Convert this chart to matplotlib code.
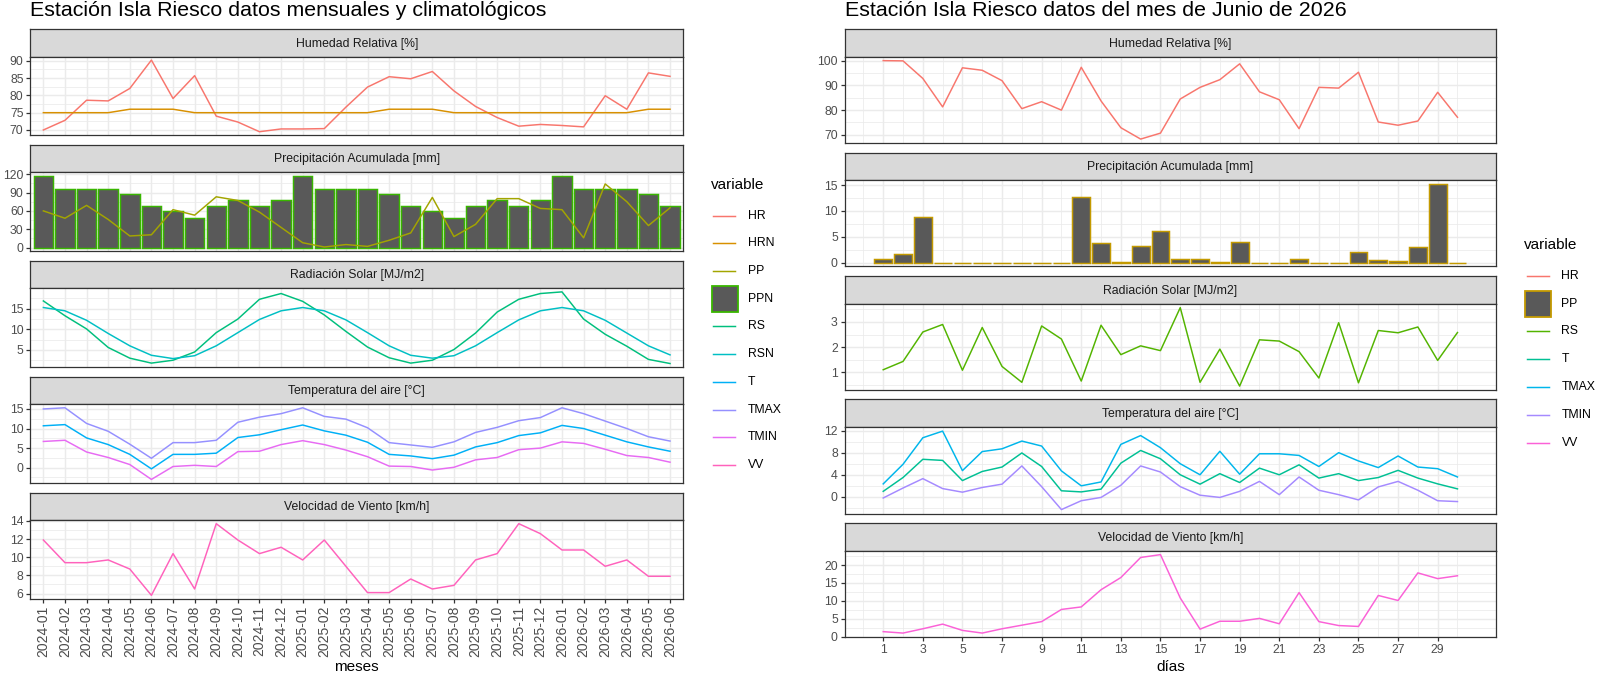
import matplotlib
matplotlib.use("Agg")
import matplotlib.pyplot as plt
from matplotlib.lines import Line2D
from matplotlib.patches import Rectangle
from matplotlib.ticker import MultipleLocator, AutoMinorLocator, FixedLocator, NullLocator

plt.rcParams['font.family'] = ['Liberation Sans', 'DejaVu Sans']

# ---------------- data: monthly (left) ----------------
meses = ["2024-01", "2024-02", "2024-03", "2024-04", "2024-05", "2024-06",
         "2024-07", "2024-08", "2024-09", "2024-10", "2024-11", "2024-12",
         "2025-01", "2025-02", "2025-03", "2025-04", "2025-05", "2025-06",
         "2025-07", "2025-08", "2025-09", "2025-10", "2025-11", "2025-12",
         "2026-01", "2026-02", "2026-03", "2026-04", "2026-05", "2026-06"]
HR_m = [70.0, 72.8, 78.6, 78.4, 82.0, 90.2, 79.1, 85.7, 74.0, 72.3, 69.5, 70.3,
        70.3, 70.4, 76.6, 82.4, 85.4, 84.8, 86.9, 81.3, 76.8, 73.6, 71.1, 71.6,
        71.3, 70.9, 79.9, 76.0, 86.5, 85.5]
HRN_m = [75, 75, 75, 75, 76, 76, 76, 75, 75, 75, 75, 75, 75, 75, 75, 75, 76, 76,
         76, 75, 75, 75, 75, 75, 75, 75, 75, 75, 76, 76]
PPN_m = [117, 96, 96, 96, 88, 68, 59, 49, 68, 78, 68, 78, 117, 96, 96, 96, 88, 68,
         59, 49, 68, 78, 68, 78, 117, 96, 96, 96, 88, 68]
PP_m = [60, 48, 69, 46, 19, 21, 62, 53, 83, 77, 58, 33, 8, 1, 5, 2, 12, 24, 82, 18,
        38, 80, 80, 64, 62, 16, 104, 75, 36, 65]
RS_m = [16.9, 13.3, 10.1, 5.6, 3.0, 1.8, 2.5, 4.5, 9.2, 12.5, 17.3, 18.7, 16.8, 13.5,
        9.5, 5.7, 3.1, 1.8, 2.5, 5.1, 9.1, 14.2, 17.3, 18.7, 19.1, 12.5, 8.8, 5.9, 2.7, 1.7]
RSN_m = [15.3, 14.5, 12.2, 9.0, 6.0, 3.7, 2.9, 3.6, 6.0, 9.2, 12.4, 14.5, 15.3, 14.5,
         12.3, 9.2, 6.0, 3.7, 3.0, 3.6, 6.0, 9.2, 12.3, 14.5, 15.3, 14.5, 12.2, 9.1, 6.0, 3.8]
T_m = [10.7, 11.0, 7.6, 5.9, 3.4, -0.3, 3.4, 3.4, 3.7, 7.7, 8.4, 9.7, 10.9, 9.4, 8.3,
       6.5, 3.4, 3.0, 2.3, 3.2, 5.3, 6.4, 8.2, 8.9, 10.8, 10.0, 8.3, 6.6, 5.3, 4.2]
TMAX_m = [15.0, 15.3, 11.3, 9.3, 6.0, 2.4, 6.4, 6.4, 7.0, 11.6, 12.9, 13.8, 15.3, 13.1,
          12.4, 10.2, 6.4, 5.8, 5.2, 6.6, 9.0, 10.3, 12.0, 12.8, 15.3, 13.8, 11.9, 10.0, 7.9, 6.8]
TMIN_m = [6.7, 7.0, 4.0, 2.6, 0.8, -3.0, 0.3, 0.6, 0.3, 4.1, 4.2, 5.9, 6.9, 5.9, 4.5,
          2.8, 0.4, 0.3, -0.6, 0.1, 2.0, 2.6, 4.6, 5.0, 6.6, 6.2, 4.7, 3.1, 2.6, 1.4]
VV_m = [11.9, 9.4, 9.4, 9.7, 8.7, 5.8, 10.4, 6.5, 13.7, 11.9, 10.4, 11.1, 9.7, 11.9,
        9.0, 6.1, 6.1, 7.6, 6.5, 6.9, 9.7, 10.4, 13.7, 12.6, 10.8, 10.8, 9.0, 9.7, 7.9, 7.9]

# ---------------- data: daily (right) ----------------
dias = [1, 2, 3, 4, 5, 6, 7, 8, 9, 10, 11, 12, 13, 14, 15, 16, 17, 18, 19, 20,
        21, 22, 23, 24, 25, 26, 27, 28, 29, 30]
dias_ticks = [1, 3, 5, 7, 9, 11, 13, 15, 17, 19, 21, 23, 25, 27, 29]
HR_d = [100.0, 99.9, 92.8, 81.3, 97.1, 96.1, 91.9, 80.6, 83.4, 80.0, 97.3, 83.7, 72.9,
        68.3, 70.7, 84.5, 89.2, 92.3, 98.7, 87.4, 84.2, 72.5, 89.2, 88.9, 95.3, 75.2,
        73.9, 75.6, 87.2, 77.1]
PP_d = [0.65, 1.75, 8.8, 0, 0, 0, 0, 0, 0, 0, 12.7, 3.7, 0.1, 3.2, 6.2, 0.65, 0.7, 0.1,
        3.9, 0, 0, 0.6, 0, 0, 2.1, 0.5, 0.25, 3.0, 15.2, 0]
RS_d = [1.1, 1.43, 2.6, 2.9, 1.08, 2.78, 1.23, 0.6, 2.84, 2.32, 0.65, 2.87, 1.7, 2.05,
        1.86, 3.57, 0.6, 1.92, 0.45, 2.29, 2.24, 1.82, 0.77, 2.97, 0.58, 2.66, 2.57, 2.8,
        1.47, 2.58]
T_d = [1.0, 3.5, 6.8, 6.6, 2.95, 4.6, 5.4, 7.95, 5.5, 1.1, 0.9, 1.4, 6.1, 8.4, 6.9, 4.0,
       2.3, 4.2, 2.6, 5.2, 4.0, 5.8, 3.4, 4.2, 2.95, 3.5, 4.8, 3.4, 2.35, 1.45]
TMAX_d = [2.35, 5.9, 10.7, 11.9, 4.75, 8.2, 8.7, 10.1, 9.2, 4.7, 2.0, 2.7, 9.5, 11.1, 8.9,
          6.0, 4.0, 8.25, 4.1, 7.8, 7.8, 7.5, 5.5, 8.0, 6.5, 5.3, 7.4, 5.4, 5.1, 3.6]
TMIN_d = [-0.2, 1.6, 3.3, 1.5, 0.85, 1.7, 2.3, 5.6, 1.85, -2.3, -0.7, -0.1, 2.1, 5.6, 4.5,
          1.85, 0.3, -0.1, 1.0, 2.8, 0.4, 3.6, 1.2, 0.4, -0.55, 1.8, 2.8, 1.2, -0.7, -0.85]
VV_d = [1.4, 1.0, 2.2, 3.5, 1.75, 1.0, 2.2, 3.2, 4.2, 7.6, 8.3, 13.1, 16.5, 22.1, 22.9,
        10.8, 2.1, 4.3, 4.3, 5.1, 3.6, 12.3, 4.2, 3.1, 2.85, 11.5, 10.1, 17.8, 16.2, 17.0]

# ---------------- colours / names ----------------
vars_left = ["HR", "HRN", "PP", "PPN", "RS", "RSN", "T", "TMAX", "TMIN", "VV"]
cols_left = ["#F8766D", "#D89000", "#A3A500", "#39B600", "#00BF7D", "#00BFC4",
             "#00B0F6", "#9590FF", "#E76BF3", "#FF62BC"]
bars_left = ["PPN"]
vars_right = ["HR", "PP", "RS", "T", "TMAX", "TMIN", "VV"]
cols_right = ["#F8766D", "#C49A00", "#53B400", "#00C094", "#00B6EB", "#A58AFF", "#FB61D7"]
bars_right = ["PP"]
CL = dict(zip(vars_left, cols_left))
CR = dict(zip(vars_right, cols_right))

facet_titles = ["Humedad Relativa [%]", "Precipitación Acumulada [mm]",
                "Radiación Solar [MJ/m2]", "Temperatura del aire [°C]",
                "Velocidad de Viento [km/h]"]

W, H = 1600, 676
fig = plt.figure(figsize=(W / 100, H / 100), dpi=100)

BORDER = "#333333"
GRID = "#EBEBEB"
LW = 1.07
BARFILL = "#595959"


def px_axes(x0, y0, x1, y1):
    return fig.add_axes([x0 / W, 1 - y1 / H, (x1 - x0) / W, (y1 - y0) / H])


def strip(x0, y0, x1, y1, text):
    ax = px_axes(x0, y0, x1, y1)
    ax.set_facecolor("#D9D9D9")
    ax.set_xticks([])
    ax.set_yticks([])
    for s in ax.spines.values():
        s.set_color(BORDER)
        s.set_linewidth(0.9)
    ax.text(0.5, 0.47, text, transform=ax.transAxes, ha="center", va="center",
            fontsize=8.8, color="#1A1A1A")
    return ax


def panel(x0, y0, x1, y1, ystep, bottom):
    ax = px_axes(x0, y0, x1, y1)
    ax.use_sticky_edges = False
    ax.margins(y=0.05)
    ax.yaxis.set_major_locator(MultipleLocator(ystep))
    ax.yaxis.set_minor_locator(AutoMinorLocator(2))
    ax.set_axisbelow(True)
    ax.grid(which="major", color=GRID, lw=1.07)
    ax.grid(which="minor", color=GRID, lw=0.55)
    for s in ax.spines.values():
        s.set_color(BORDER)
        s.set_linewidth(0.9)
    ax.tick_params(which="major", length=2.75, width=0.9, color=BORDER,
                   labelsize=8.8, labelcolor="#4D4D4D", pad=2.2)
    ax.tick_params(which="minor", length=0)
    if not bottom:
        ax.tick_params(axis="x", which="both", length=0, labelbottom=False)
    return ax


# ---------------- left figure ----------------
LX0, LX1 = 30.4, 683.0
LTOP, LSTEP, LSTRIP, LPANEL = 29.0, 115.9, 27.5, 78.8
xm = list(range(len(meses)))
left_steps = [5, 30, 5, 5, 2]
left_axes = []
for k in range(5):
    t = LTOP + k * LSTEP
    strip(LX0, t, LX1, t + LSTRIP, facet_titles[k])
    ax = panel(LX0, t + LSTRIP, LX1, t + LSTRIP + LPANEL, left_steps[k], k == 4)
    ax.set_xlim(-0.6, len(meses) - 0.4)
    ax.xaxis.set_major_locator(FixedLocator(xm))
    ax.xaxis.set_minor_locator(NullLocator())
    left_axes.append(ax)

a = left_axes[0]
a.plot(xm, HR_m, color=CL["HR"], lw=LW)
a.plot(xm, HRN_m, color=CL["HRN"], lw=LW)
a = left_axes[1]
a.bar(xm, PPN_m, width=0.9, color=BARFILL, edgecolor=CL["PPN"], lw=LW)
a.plot(xm, PP_m, color=CL["PP"], lw=LW)
a = left_axes[2]
a.plot(xm, RS_m, color=CL["RS"], lw=LW)
a.plot(xm, RSN_m, color=CL["RSN"], lw=LW)
a = left_axes[3]
a.plot(xm, T_m, color=CL["T"], lw=LW)
a.plot(xm, TMAX_m, color=CL["TMAX"], lw=LW)
a.plot(xm, TMIN_m, color=CL["TMIN"], lw=LW)
a = left_axes[4]
a.plot(xm, VV_m, color=CL["VV"], lw=LW)
a.set_xticks(xm)
a.set_xticklabels(meses, rotation=90, ha="center", va="top", fontsize=10)

fig.text(LX0 / W, 1 - 0.5 / H, "Estación Isla Riesco datos mensuales y climatológicos",
         ha="left", va="top", fontsize=15.4, color="black")
fig.text((LX0 + LX1) / 2 / W, 1 - 671 / H, "meses", ha="center", va="baseline",
         fontsize=11, color="black")

# ---------------- right figure ----------------
RX0, RX1 = 844.7, 1496.0
RTOP, RSTEP, RSTRIP, RPANEL = 29.0, 123.5, 27.7, 86.3
lo, hi = dias[0] - 0.45, dias[-1] + 0.45
pad = 0.05 * (hi - lo)
right_steps = [10, 5, 1, 4, 5]
right_axes = []
for k in range(5):
    t = RTOP + k * RSTEP
    strip(RX0, t, RX1, t + RSTRIP, facet_titles[k])
    ax = panel(RX0, t + RSTRIP, RX1, t + RSTRIP + RPANEL, right_steps[k], k == 4)
    ax.set_xlim(lo - pad, hi + pad)
    ax.xaxis.set_major_locator(FixedLocator(dias_ticks))
    ax.xaxis.set_minor_locator(FixedLocator([d - 1 for d in dias_ticks] + [dias[-1]]))
    right_axes.append(ax)

a = right_axes[0]
a.plot(dias, HR_d, color=CR["HR"], lw=LW)
a = right_axes[1]
a.bar(dias, PP_d, width=0.9, color=BARFILL, edgecolor=CR["PP"], lw=LW)
a = right_axes[2]
a.plot(dias, RS_d, color=CR["RS"], lw=LW)
a = right_axes[3]
a.plot(dias, T_d, color=CR["T"], lw=LW)
a.plot(dias, TMAX_d, color=CR["TMAX"], lw=LW)
a.plot(dias, TMIN_d, color=CR["TMIN"], lw=LW)
a = right_axes[4]
a.plot(dias, VV_d, color=CR["VV"], lw=LW)

fig.text(RX0 / W, 1 - 0.5 / H, "Estación Isla Riesco datos del mes de Junio de 2026",
         ha="left", va="top", fontsize=15.4, color="black")
fig.text((RX0 + RX1) / 2 / W, 1 - 671 / H, "días", ha="center", va="baseline",
         fontsize=11, color="black")


# ---------------- legends ----------------
def legend(x_title, y_title, x_key, y_first, step, names, colors, bars):
    fig.text(x_title / W, 1 - y_title / H, "variable", ha="left", va="center",
             fontsize=11, color="black")
    for i, (n, c) in enumerate(zip(names, colors)):
        y = y_first + i * step
        if n in bars:
            fig.add_artist(Rectangle(((x_key - 1.5) / W, 1 - (y + 13) / H), 26 / W, 26 / H,
                                     transform=fig.transFigure, facecolor=BARFILL,
                                     edgecolor=c, lw=1.3))
        else:
            fig.add_artist(Line2D([x_key / W, (x_key + 22) / W], [1 - y / H, 1 - y / H],
                                  transform=fig.transFigure, color=c, lw=LW))
        fig.text((x_key + 35) / W, 1 - y / H, n, ha="left", va="center",
                 fontsize=8.8, color="black")


legend(711, 185, 713, 215.7, 27.7, vars_left, cols_left, bars_left)
legend(1524, 245, 1526.5, 275.7, 27.8, vars_right, cols_right, bars_right)

fig.savefig("out.png", dpi=100)
